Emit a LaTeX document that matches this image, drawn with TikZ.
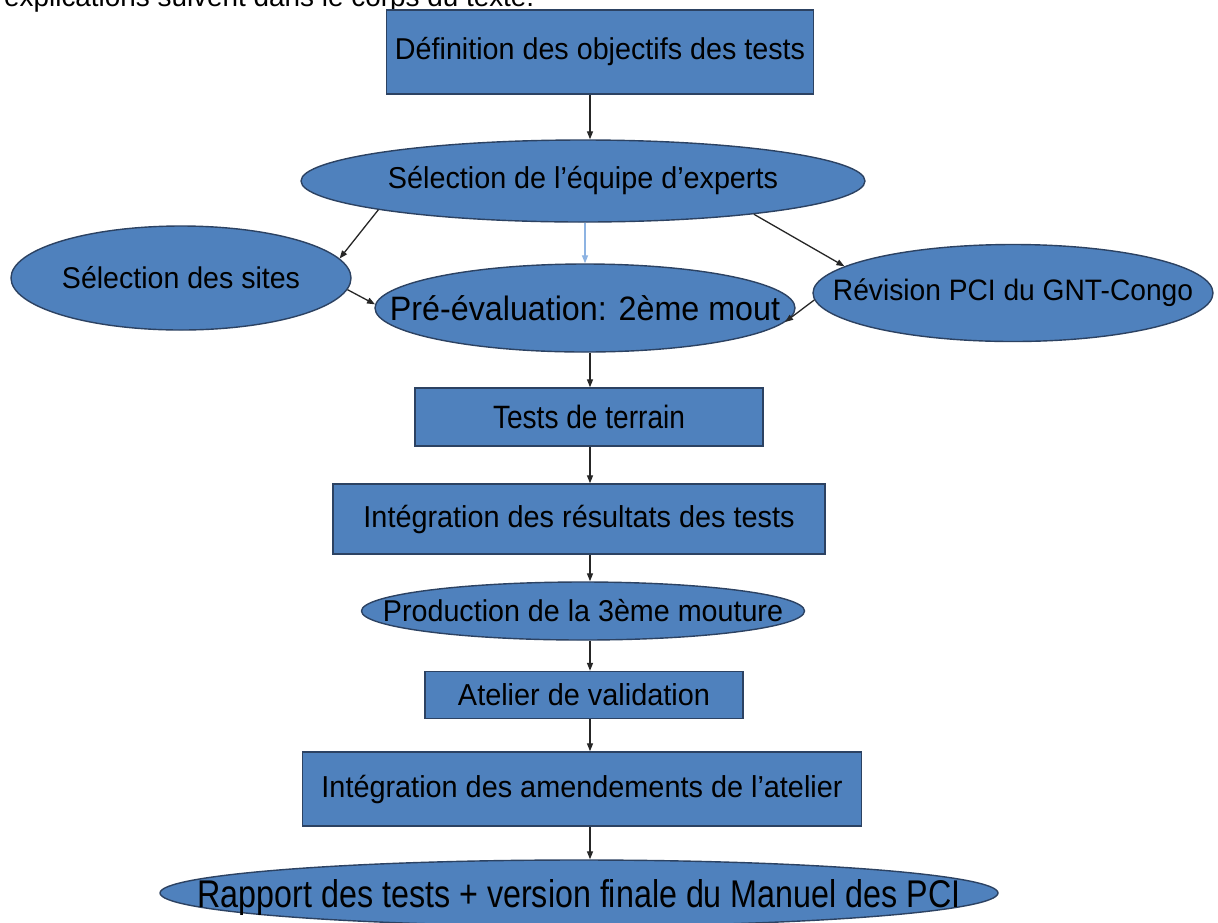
\documentclass[tikz,border=0pt]{standalone}
\usepackage{fontspec}
\setmainfont{Liberation Sans}
\usetikzlibrary{shapes.geometric,arrows.meta}
\definecolor{boxfill}{RGB}{79,129,189}
\definecolor{boxline}{RGB}{44,66,98}
\definecolor{lightarrow}{RGB}{141,179,226}
\newcommand{\fitt}[2]{\makebox[0pt]{\scalebox{1}[1.05]{\resizebox{#1pt}{!}{#2}}}}
\newcommand{\fittt}[3]{\makebox[0pt]{\resizebox{#1pt}{#2pt}{#3}}}
\begin{document}
\begin{tikzpicture}[x=1pt,y=-1pt,
  blk/.style={draw=boxline,fill=boxfill,line width=1.4pt,inner sep=0pt},
  rbox/.style={blk,rectangle},
  ebox/.style={blk,ellipse},
  conn/.style={-{Triangle[length=8pt,width=6pt]},line width=1.3pt,black!85},
  lconn/.style={conn,lightarrow}]
\useasboundingbox (0,0) rectangle (1218,922);
\clip (0,0) rectangle (1218,922);
\fill[white] (0,0) rectangle (1218,922);

\node[anchor=base west,inner sep=0pt] (top) at (4,6) {\resizebox{530pt}{!}{explications suivent dans le corps du texte.}};

\coordinate (axis) at (590,0);
\coordinate (axisb) at (585,0);

\node[rbox,minimum width=427pt,minimum height=84pt] (n1) at (600,52) {\fitt{410}{Définition des objectifs des tests}};
\node[ebox,minimum width=564pt,minimum height=82pt] (n2) at (583,181) {\fitt{390}{Sélection de l’équipe d’experts}};
\node[ebox,minimum width=340pt,minimum height=104pt] (n3) at (181,278) {\fitt{238}{Sélection des sites}};
\node[ebox,minimum width=420pt,minimum height=88pt] (n4) at (585,308) {\fitt{390}{Pré-évaluation: 2ème mout}};
\node[ebox,minimum width=400pt,minimum height=97pt] (n5) at (1013,293) {\fitt{360}{Révision PCI du GNT-Congo}};
\node[rbox,minimum width=348pt,minimum height=58pt] (n6) at (589,417) {\makebox[0pt]{\scalebox{1}[1.15]{\resizebox{192pt}{!}{Tests de terrain}}}};
\node[rbox,minimum width=492pt,minimum height=70pt] (n7) at (579,519) {\fitt{431}{Intégration des résultats des tests}};
\node[ebox,minimum width=443pt,minimum height=58pt] (n8) at (583,611) {\fitt{400}{Production de la 3ème mouture}};
\node[rbox,minimum width=318pt,minimum height=47pt] (n9) at (584,695) {\fitt{252}{Atelier de validation}};
\node[rbox,minimum width=559pt,minimum height=74pt] (n10) at (582,789) {\fitt{521}{Intégration des amendements de l’atelier}};
\node[ebox,minimum width=838pt,minimum height=66pt] (n11) at (579,893) {\raisebox{-14pt}[0pt][0pt]{\fittt{763}{28}{Rapport des tests + version finale du Manuel des PCI}}};

\draw[conn] (n1.south -| axis) -- (n2.north -| axis);
\draw[conn] (n2.188.7) -- (n3.7.4);
\draw[lconn] (n2.south -| axisb) -- (n4.north -| axisb);
\draw[conn] (n2.349.5) -- (n5.171.9);
\draw[conn] (n3.356.6) -- (n4.179);
\draw[conn] (n5.182) -- (n4.356.6);
\draw[conn] (n4.south -| axis) -- (n6.north -| axis);
\draw[conn] (n6.south -| axis) -- (n7.north -| axis);
\draw[conn] (n7.south -| axis) -- (n8.north -| axis);
\draw[conn] (n8.south -| axis) -- (n9.north -| axis);
\draw[conn] (n9.south -| axis) -- (n10.north -| axis);
\draw[conn] (n10.south -| axis) -- (n11.north -| axis);
\end{tikzpicture}
\end{document}
